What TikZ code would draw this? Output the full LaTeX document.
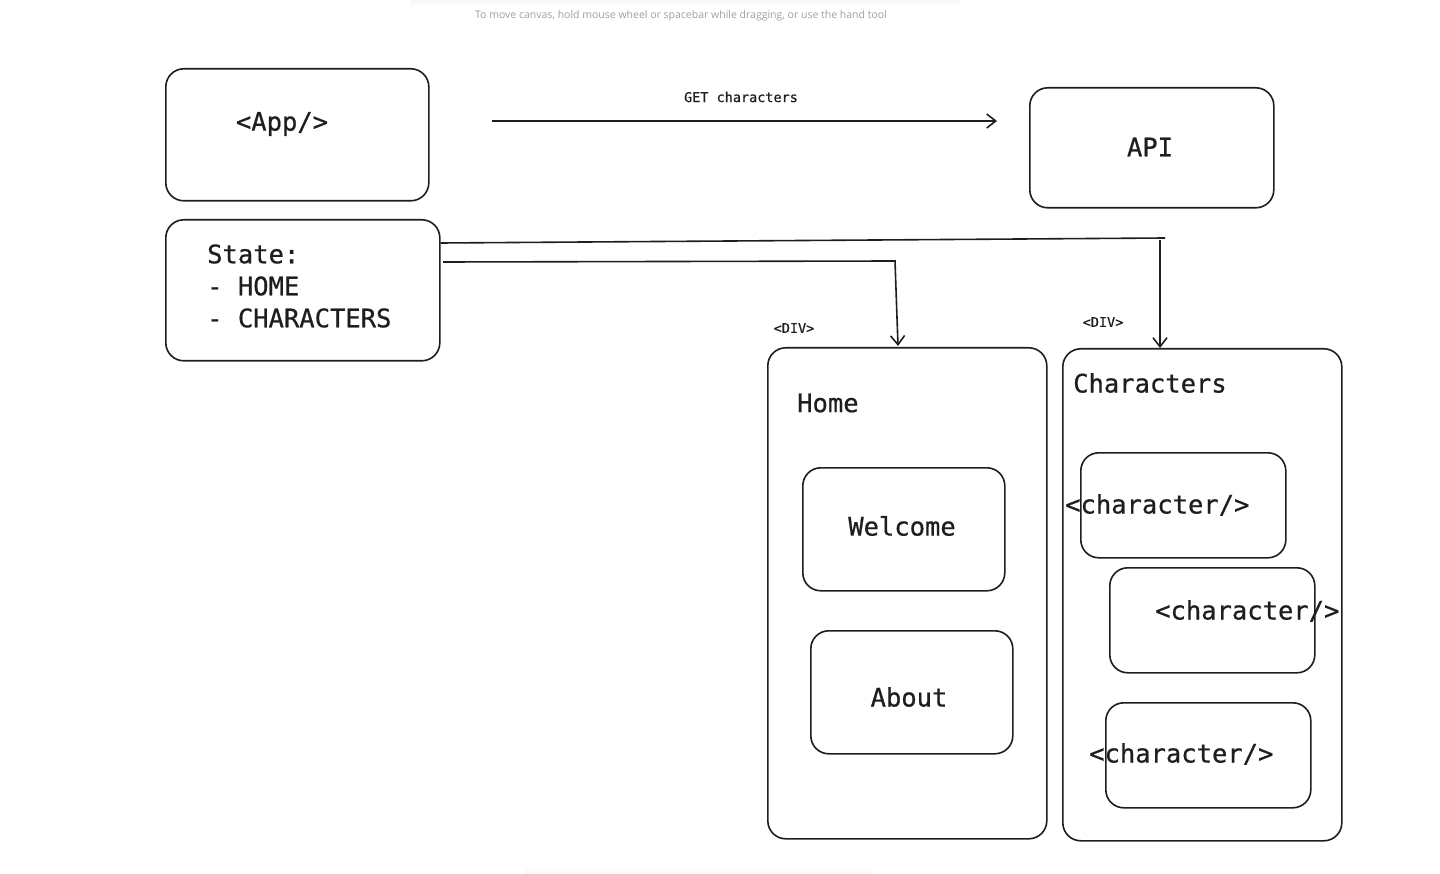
\documentclass[tikz,border=0pt]{standalone}
\usepackage{fontspec}
\usetikzlibrary{arrows.meta}
\newfontfamily\mono{DejaVu Sans Mono}[UprightFeatures={FakeBold=0.6}]
\newfontfamily\hintfont{Open Sans}
\definecolor{ink}{HTML}{1E1E1E}
\definecolor{hintgray}{HTML}{A0A0A0}
\tikzset{
  box/.style={draw=ink, rounded corners=18pt, line width=1.6pt, inner sep=0pt, anchor=north west},
  big/.style={font=\mono\fontsize{25.5}{32}\selectfont, text=ink, inner sep=0pt},
  small/.style={font=\mono\fontsize{13.5}{16}\selectfont, text=ink, inner sep=0pt},
  conn/.style={draw=ink, line width=1.6pt, -{Straight Barb[length=9pt,width=14pt,line width=1.6pt]}},
  wire/.style={draw=ink, line width=1.6pt},
}
\begin{document}
\begin{tikzpicture}[x=1pt,y=-1pt]
\useasboundingbox (0,0) rectangle (1440,874);
\fill[white] (0,0) rectangle (1440,874);
% faint shadows of the toolbar areas
\shade[top color=black!3, bottom color=white] (410,0) rectangle (960,6);
\shade[top color=white, bottom color=black!3] (525,866) rectangle (870,874);
\node[font=\hintfont\fontsize{10.5}{12}\selectfont, text=hintgray, inner sep=0pt] (hint) at (681,16) {To move canvas, hold mouse wheel or spacebar while dragging, or use the hand tool};

% top row
\node[box, minimum width=263pt, minimum height=132pt] (app) at (165,68) {};
\node[big] (apptxt) at (282,124) {<App/>};
\node[box, minimum width=244pt, minimum height=120pt] (api) at (1029,87) {};
\node[big] (apitxt) at (1150,147) {API};

% state
\node[box, minimum width=274pt, minimum height=141pt] (state) at (165,219) {};
\node[big, align=left, anchor=west] (statetxt) at (207,286) {State:\\- HOME\\- CHARACTERS};

% GET arrow
\coordinate (gs) at (492,121);
\coordinate (ge) at (997,121);
\draw[conn] (gs) -- (ge);
\node[small] (getlbl) at (741,97) {GET characters};

% home column
\node[box, minimum width=279pt, minimum height=491pt] (home) at (767,347) {};
\node[big, anchor=west] (hometxt) at (797,403) {Home};
\node[box, minimum width=202pt, minimum height=123pt] (welcome) at (802,467) {};
\node[big] (welcometxt) at (902,526) {Welcome};
\node[box, minimum width=202pt, minimum height=123pt] (about) at (810,630) {};
\node[big] (abouttxt) at (909,697) {About};
\node[small] (div1) at (794,328) {<DIV>};

% characters column
\node[box, minimum width=279pt, minimum height=492pt] (chars) at (1062,348) {};
\node[big, anchor=west] (charstxt) at (1073,383) {Characters};
\node[box, minimum width=205pt, minimum height=105pt] (c1) at (1080,452) {};
\node[big, anchor=west] (c1txt) at (1065,505) {<character/>};
\node[box, minimum width=205pt, minimum height=105pt] (c2) at (1109,567) {};
\node[big, anchor=west] (c2txt) at (1155,611) {<character/>};
\node[box, minimum width=205pt, minimum height=105pt] (c3) at (1105,702) {};
\node[big, anchor=west] (c3txt) at (1089,754) {<character/>};
\node[small] (div2) at (1103,322) {<DIV>};

% connectors from state
\coordinate (k1) at (1165,238);
\coordinate (k1d) at (1160,240);
\draw[wire] (state.east |- 0,243) -- (k1);
\draw[conn] (k1d) -- (chars.north -| k1d);
\coordinate (k2) at (895,261);
\draw[conn] (443,262) -- (k2) -- (898,346);
\end{tikzpicture}
\end{document}
